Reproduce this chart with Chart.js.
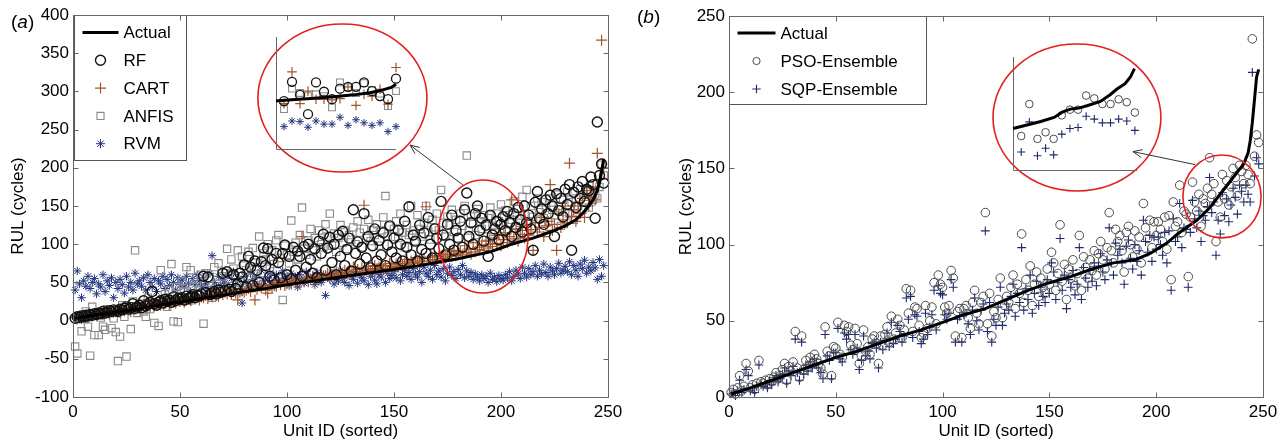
<!DOCTYPE html>
<html lang="en">
<head>
<meta charset="UTF-8">
<title>RUL prediction comparison</title>
<script src="https://cdn.jsdelivr.net/npm/chart.js@4"></script>
<style>
  body { margin: 0; background: #fff; font-family: 'Liberation Sans', Arial, sans-serif; }
  #wrap { position: relative; width: 1286px; height: 444px; overflow: hidden; }
  #wrap canvas { position: absolute; }
  .tag { position: absolute; font-size: 19px; line-height: 20px; color: #000; }
</style>
</head>
<body>
<div id="wrap">
  <canvas id="chartA" width="640" height="444" style="left:0;top:0"></canvas>
  <canvas id="chartB" width="646" height="444" style="left:640px;top:0"></canvas>
  <canvas id="insetA" width="132" height="125" style="left:270px;top:30px"></canvas>
  <canvas id="insetB" width="134" height="125" style="left:1008px;top:50px"></canvas>
  <div class="tag" style="left:11px;top:12px">(<i>a</i>)</div>
  <div class="tag" style="left:637px;top:7px">(<i>b</i>)</div>
</div>

<script>
// ---- panel (a): one value per unit, units sorted 1..248 ----
const actualUnitsA = [1,10,20,30,40,50,60,70,80,90,100,110,120,130,140,150,160,170,180,190,
  195,200,205,210,215,220,225,230,235,238,241,243,245,246,247,248];
const actualA = [3,7,11,15,20,24,29,33,38,42,47,51,55,59,63,67,71,76,81,87,
  90,95,100,104,108,113,118,124,132,140,150,158,170,180,195,212];

const rfA = [
  3,5,4,6,5,7,6,8,7,9, 8,10,9,12,10,11,13,12,14,13, 12,15,14,16,18,15,17,22,16,18,
  20,17,26,19,21,24,38,22,20,24, 26,23,28,25,27,24,31,26,29,28, 30,27,32,29,31,34,30,33,32,35,
  58,37,57,34,36,38,35,40,37,62, 39,64,41,38,60,42,48,62,57,73, 44,84,70,46,78,66,50,77,95,72,
  94,58,80,53,88,76,56,88,99,60, 84,54,96,66,91,84,58,97,70,100, 80,62,94,56,104,88,113,66,95,109,
  76,100,60,112,84,117,72,93,108,65, 145,88,103,74,96,140,82,110,69,98, 120,78,105,86,115,72,99,124,90,108,
  82,118,100,78,130,96,149,86,112,104, 78,125,93,115,88,135,100,82,120,108, 94,156,112,86,126,100,138,92,118,108,
  130,96,145,167,110,128,100,140,150,118, 134,104,125,84,138,112,120,130,106,126, 136,118,143,128,110,140,122,148,132,116,
  150,128,138,120,92,155,169,134,146,126, 158,140,164,150,110,166,144,160,136,172, 152,178,92,168,148,175,160,182,156,172,
  170,188,178,134,260,190,205,180];

const cartA = [
  4,2,6,3,7,5,4,8,6,9, 7,9,11,8,10,12,9,13,11,12, 14,11,15,13,16,14,12,17,15,19,
  16,18,21,17,20,18,22,19,23,21, 20,24,22,25,21,26,24,23,27,25, 28,24,27,29,26,30,28,32,27,31,
  30,33,29,34,31,35,33,32,36,34, 37,35,40,34,38,36,27,41,39,37, 40,42,38,44,27,41,45,43,47,40,
  36,46,44,48,45,50,47,52,46,49, 51,48,55,50,53,49,110,52,56,51, 54,58,53,57,55,60,56,59,62,57,
  58,61,64,59,63,60,66,62,65,61, 70,64,67,63,69,151,66,71,65,68, 72,67,70,74,68,72,66,75,71,69,
  74,70,77,72,75,80,73,78,76,82, 75,79,77,81,149,78,83,80,85,79, 84,81,87,82,86,90,84,92,85,88,
  91,86,98,89,94,87,102,90,96,93, 99,92,104,95,100,97,108,101,112,98, 106,115,102,110,158,107,120,104,113,118,
  108,125,112,119,92,128,116,122,135,110, 124,130,178,118,126,92,140,122,132,150, 128,206,136,145,130,150,140,160,135,170,
  150,162,175,158,219,185,367,200];

const anfisA = [
  -34,-43,5,-14,2,12,-8,-46,18,-19, 8,-19,4,-8,-12,15,10,-10,3,-15, -53,-21,20,5,-47,14,-11,25,92,10,
  18,22,12,5,30,15,24,-3,20,-7, 66,28,35,18,40,74,-1,44,-2,32, 52,38,70,26,66,45,30,50,35,60,
  -4,62,40,55,30,70,48,75,38,58, 62,94,45,80,68,56,92,50,84,72, 66,90,58,95,76,70,110,62,88,80,
  100,68,92,74,105,112,82,27,98,86, 75,131,90,102,80,112,148,94,86,105, 120,92,108,84,118,100,96,126,110,140,
  98,114,90,108,125,102,118,94,112,106, 122,100,130,115,96,120,108,132,104,118, 112,126,98,118,135,163,110,124,100,120,
  130,108,140,115,96,125,112,150,118,104, 138,120,110,128,150,116,106,132,122,140, 118,171,128,110,136,125,145,116,132,108,
  140,124,150,216,118,136,128,112,146,130, 120,138,110,134,148,124,116,140,130,152, 126,144,118,138,132,156,124,146,128,162,
  140,171,130,150,136,124,160,142,155,134, 148,130,160,145,138,165,150,124,158,142, 168,140,155,132,160,150,172,145,162,155,
  148,170,158,165,160,175,204,190];

const rvmA = [
  40,65,48,30,52,45,58,42,50,55, 35,48,44,60,38,52,46,56,30,50, 42,54,47,36,58,44,50,40,62,48,
  52,45,56,40,60,50,44,55,38,52, 48,58,42,54,46,60,50,40,56,47, 53,44,58,49,38,55,47,60,52,45,
  56,48,42,62,85,50,44,58,46,54, 49,60,43,55,64,47,52,36,23,58, 50,44,62,54,48,58,45,66,52,47,
  56,62,50,44,60,53,48,65,55,58, 46,62,52,57,44,60,54,49,64,56, 52,58,47,63,55,50,60,33,57,54,
  62,48,58,52,66,55,50,61,46,58, 54,63,49,60,56,52,65,47,58,62, 53,48,60,57,66,50,62,55,59,64,
  56,70,52,60,66,58,63,54,68,61, 57,64,50,70,62,58,66,54,72,60, 65,57,68,52,62,70,59,64,55,67,
  60,72,56,65,58,63,54,61,57,52, 60,55,58,50,62,54,57,51,59,55, 53,60,56,64,52,58,66,61,55,70,
  62,57,68,60,64,72,58,66,61,74, 63,58,70,65,60,68,75,62,66,71, 64,77,60,72,66,58,74,68,79,62,
  70,65,76,69,54,80,58,72];

// ---- panel (b) ----
const actualUnitsB = [1,10,20,30,40,50,60,70,80,90,100,110,120,130,140,150,160,170,180,190,
  197,205,210,215,219,225,231,236,241,243,244,245,246,247,248];
const actualB = [2,6,11,16,21,26,30,35,40,44,49,54,58,64,70,75,79,84,88,90,
  94,101,107,112,116,124,135,144,153,160,168,180,195,210,215];

const psoB = [
  3,5,2,6,14,4,7,22,17,6, 8,5,9,24,10,9,11,8,12,10, 13,16,12,14,18,22,11,20,17,23,
  43,19,13,40,18,24,20,26,22,28, 25,22,19,15,46,30,27,14,33,32, 49,28,26,47,43,46,34,31,45,35,
  22,27,44,30,33,28,38,40,35,22, 40,34,41,46,36,53,38,42,51,47, 39,44,71,55,70,43,59,58,47,39,
  42,60,45,50,59,75,48,80,74,72, 59,55,60,83,78,40,56,58,39,58, 60,52,45,62,70,55,48,62,66,121,
  48,68,40,56,52,64,78,52,60,66, 62,72,80,58,74,68,107,62,77,70, 86,60,74,82,66,78,72,68,84,74,
  95,88,70,81,113,76,87,64,84,78, 90,73,81,106,70,92,85,78,90,83, 96,80,94,102,90,84,98,121,96,88,
  110,102,106,96,82,108,112,100,92,109, 97,105,88,127,111,104,116,98,115,106, 115,110,102,118,97,119,77,128,112,115,
  139,108,122,120,79,118,141,128,122,133, 112,130,127,137,157,133,140,102,128,118, 146,130,142,126,138,150,144,132,152,148,
  140,152,146,140,235,158,172,167];

const sqpB = [
  2,3,1,4,11,3,5,18,14,4, 6,3,7,21,8,7,9,6,10,8, 11,14,10,12,15,19,9,17,14,20,
  38,16,11,36,15,21,17,23,19,25, 22,19,16,12,41,27,24,12,29,29, 45,25,23,42,38,41,31,28,41,32,
  18,24,40,27,30,25,35,36,32,19, 36,31,37,42,33,49,35,38,47,43, 36,40,65,51,66,39,54,53,43,35,
  38,55,41,46,54,70,44,73,68,67, 54,51,55,77,72,36,51,53,36,54, 55,48,41,57,65,50,44,57,61,109,
  43,62,36,51,47,59,72,47,55,61, 57,66,74,53,68,62,98,57,71,64, 80,55,68,76,60,72,66,62,77,68,
  88,82,64,75,104,70,80,58,77,72, 83,67,74,98,64,85,78,72,83,76, 88,73,86,94,82,77,90,111,88,80,
  101,93,97,88,74,99,103,91,84,100, 89,96,80,116,102,95,106,89,105,97, 105,100,93,108,88,109,70,117,102,105,
  127,98,111,110,72,108,129,117,111,122, 102,119,116,125,144,121,128,93,116,107, 134,119,130,115,126,137,131,120,139,135,
  128,139,133,128,213,145,157,153];

// ---- zoomed insets (points shown inside the big red ellipses) ----
const insetUnitsA = [181,183,185,187,189,191,193,195,197,199,201,203,205,207,209];
const insetActualUnitsA = [179,182.8,187.7,193.5,198.4,202.5,205.7,207.8,209];
const insetActualA = [97,99,101,104,107,110.5,115,119,124];
const insetRF = [97,128,107,76,127,112,100,117,120,120,127,113,105,100,133];
const insetCART = [93,144,93,113,100,100,99,101,120,90,108,105,116,92,151];
const insetANFIS = [84,117,110,105,108,105,87,127,119,110,126,115,109,89,113];
const insetRVM = [56,65,64,55,65,60,60,71,58,67,62,58,62,48,56];

const insetUnitsB = [220,222,224,226,228,230,232,234,236,238,240,242,244,246,248];
const insetActualUnitsB = [218,220.7,224.8,228.1,230.1,232.1,234.2,236.2,239.5,241.9,243.6,245.6,246.9,247.9];
const insetActualB = [124,127,131.5,135.7,141.4,144.6,145.7,148.2,152.8,159.9,165.9,171.6,178.7,187.6];
const insetPSO = [116,150,113,120,113,138,144,144,159,156,150,150,155,152,141];
const insetSQP = [99,131,95,103,96,118,124,125,137,134,130,130,134,132,122];

// ---- tick labels ----
const xTicks = [0, 50, 100, 150, 200, 250];
const yTicksA = [-100, -50, 0, 50, 100, 150, 200, 250, 300, 350, 400];
const yTicksB = [0, 50, 100, 150, 200, 250];

// ---- red ellipses and arrows, in data units ----
const ellipsesA = [{x: 125.9, y: 291.4, rx: 39.5, ry: 96.9}, {x: 191.6, y: 110.1, rx: 21, ry: 74}];
const arrowA = {x1: 182.2, y1: 177.5, x2: 157.5, y2: 229.8};
const ellipsesB = [{x: 162.9, y: 183.4, rx: 39.3, ry: 48.2}, {x: 230.8, y: 131.6, rx: 18.3, ry: 27.2}];
const arrowB = {x1: 218.2, y1: 152.5, x2: 189.1, y2: 161};

Chart.defaults.font.family = "'Liberation Sans', Arial, sans-serif";
Chart.defaults.font.size = 17;
Chart.defaults.color = '#000';

const pts = (vals, units) => vals.map((v, i) => ({x: units ? units[i] : i + 1, y: v}));

function drawMarker(ctx, style, x, y, r, color, lw) {
  ctx.save();
  ctx.strokeStyle = color;
  ctx.lineWidth = lw;
  ctx.beginPath();
  if (style === 'circle') {
    ctx.arc(x, y, r, 0, Math.PI * 2);
  } else if (style === 'rect') {
    const s = r * Math.SQRT1_2;
    ctx.rect(x - s, y - s, 2 * s, 2 * s);
  } else {
    ctx.moveTo(x - r, y); ctx.lineTo(x + r, y);
    ctx.moveTo(x, y - r); ctx.lineTo(x, y + r);
    if (style === 'star') {
      const d = r * Math.SQRT1_2;
      ctx.moveTo(x - d, y - d); ctx.lineTo(x + d, y + d);
      ctx.moveTo(x - d, y + d); ctx.lineTo(x + d, y - d);
    }
  }
  ctx.stroke();
  ctx.restore();
}

// legend box in the top-left corner of the plot
const boxLegend = {
  id: 'boxLegend',
  afterDraw(chart, args, o) {
    const {ctx, chartArea: a} = chart;
    const x = Math.round(a.left + o.dx) + 0.5, y = Math.round(a.top) + 0.5;
    ctx.save();
    ctx.fillStyle = '#fff';
    ctx.fillRect(x, y, o.w, o.h);
    ctx.strokeStyle = '#555';
    ctx.lineWidth = 1;
    ctx.strokeRect(x, y, o.w, o.h);
    ctx.font = "17px 'Liberation Sans', Arial, sans-serif";
    ctx.textBaseline = 'middle';
    chart.data.datasets.forEach((ds, i) => {
      const yy = y + o.first + i * o.row;
      if (ds.showLine) {
        ctx.strokeStyle = ds.borderColor;
        ctx.lineWidth = ds.borderWidth;
        ctx.beginPath();
        ctx.moveTo(x + o.line[0], yy);
        ctx.lineTo(x + o.line[1], yy);
        ctx.stroke();
      } else {
        drawMarker(ctx, ds.pointStyle, x + o.mark, yy, ds.legendRadius, ds.borderColor, ds.pointBorderWidth);
      }
      ctx.fillStyle = '#000';
      ctx.fillText(ds.label, x + o.text, yy + 1);
    });
    ctx.restore();
  }
};

// box around the axes with inward ticks, MATLAB style
const frame = {
  id: 'frame',
  afterDraw(chart) {
    const {ctx, chartArea: a, scales} = chart;
    const L = Math.round(a.left) + 0.5, R = Math.round(a.right) + 0.5;
    const T = Math.round(a.top) + 0.5, B = Math.round(a.bottom) + 0.5;
    ctx.save();
    ctx.strokeStyle = '#666';
    ctx.lineWidth = 1;
    ctx.strokeRect(L, T, R - L, B - T);
    ctx.beginPath();
    scales.x.ticks.forEach(t => {
      const px = Math.round(scales.x.getPixelForValue(t.value)) + 0.5;
      ctx.moveTo(px, B); ctx.lineTo(px, B - 5);
      ctx.moveTo(px, T); ctx.lineTo(px, T + 5);
    });
    scales.y.ticks.forEach(t => {
      const py = Math.round(scales.y.getPixelForValue(t.value)) + 0.5;
      ctx.moveTo(L, py); ctx.lineTo(L + 5, py);
      ctx.moveTo(R, py); ctx.lineTo(R - 5, py);
    });
    ctx.stroke();
    ctx.restore();
  }
};

// red ellipses and the arrow pointing to the inset
const marks = {
  id: 'marks',
  afterDatasetsDraw(chart, args, o) {
    const {ctx, scales: {x, y}} = chart;
    ctx.save();
    ctx.strokeStyle = '#e41f1f';
    ctx.lineWidth = 1.6;
    o.ellipses.forEach(e => {
      const cx = x.getPixelForValue(e.x), cy = y.getPixelForValue(e.y);
      const rx = Math.abs(x.getPixelForValue(e.x + e.rx) - cx);
      const ry = Math.abs(y.getPixelForValue(e.y + e.ry) - cy);
      ctx.beginPath();
      ctx.ellipse(cx, cy, rx, ry, 0, 0, Math.PI * 2);
      ctx.stroke();
    });
    const ar = o.arrow;
    const x1 = x.getPixelForValue(ar.x1), y1 = y.getPixelForValue(ar.y1);
    const x2 = x.getPixelForValue(ar.x2), y2 = y.getPixelForValue(ar.y2);
    const ang = Math.atan2(y2 - y1, x2 - x1);
    ctx.strokeStyle = '#333';
    ctx.lineWidth = 1;
    ctx.beginPath();
    ctx.moveTo(x1, y1); ctx.lineTo(x2, y2);
    ctx.moveTo(x2 - 10 * Math.cos(ang - 0.4), y2 - 10 * Math.sin(ang - 0.4));
    ctx.lineTo(x2, y2);
    ctx.lineTo(x2 - 10 * Math.cos(ang + 0.4), y2 - 10 * Math.sin(ang + 0.4));
    ctx.stroke();
    ctx.restore();
  }
};

// inset axes: left and bottom lines only
const insetAxes = {
  id: 'insetAxes',
  beforeDatasetsDraw(chart) {
    const {ctx, chartArea: a} = chart;
    const L = Math.round(a.left) + 0.5, B = Math.round(a.bottom) + 0.5;
    ctx.save();
    ctx.strokeStyle = '#666';
    ctx.lineWidth = 1;
    ctx.beginPath();
    ctx.moveTo(L, Math.round(a.top)); ctx.lineTo(L, B); ctx.lineTo(Math.round(a.right), B);
    ctx.stroke();
    ctx.restore();
  }
};

function axes(yTicks, yWidth) {
  return {
    x: {
      type: 'linear', min: 0, max: 250,
      afterBuildTicks: s => { s.ticks = xTicks.map(v => ({value: v})); },
      afterFit: s => { s.height = 47; },
      grid: {display: false, drawTicks: false}, border: {display: false},
      ticks: {padding: 5, maxRotation: 0, autoSkip: false},
      title: {display: true, text: 'Unit ID (sorted)', padding: {top: 0, bottom: 2}}
    },
    y: {
      type: 'linear', min: yTicks[0], max: yTicks[yTicks.length - 1],
      afterBuildTicks: s => { s.ticks = yTicks.map(v => ({value: v})); },
      afterFit: s => { s.width = yWidth; },
      grid: {display: false, drawTicks: false}, border: {display: false},
      ticks: {padding: 4, autoSkip: false},
      title: {display: true, text: 'RUL (cycles)', padding: {top: 4, bottom: 4}}
    }
  };
}

const base = {responsive: false, animation: false, devicePixelRatio: 1, events: []};

new Chart(document.getElementById('chartA'), {
  type: 'scatter',
  data: {datasets: [
    {label: 'Actual', data: pts(actualA, actualUnitsA), showLine: true, borderColor: '#000', borderWidth: 3, pointRadius: 0, clip: false},
    {label: 'RF', data: pts(rfA), pointStyle: 'circle', pointRadius: 5, borderColor: '#111', backgroundColor: 'rgba(0,0,0,0)', pointBorderWidth: 1.4, legendRadius: 5, clip: false},
    {label: 'CART', data: pts(cartA), pointStyle: 'cross', pointRadius: 5.5, borderColor: '#a5532b', backgroundColor: 'rgba(0,0,0,0)', pointBorderWidth: 1.2, legendRadius: 5.5, clip: false},
    {label: 'ANFIS', data: pts(anfisA), pointStyle: 'rect', pointRadius: 5.2, borderColor: '#8a8a8a', backgroundColor: 'rgba(0,0,0,0)', pointBorderWidth: 1.1, legendRadius: 5, clip: false},
    {label: 'RVM', data: pts(rvmA), pointStyle: 'star', pointRadius: 4.2, borderColor: '#22357f', backgroundColor: 'rgba(0,0,0,0)', pointBorderWidth: 1, legendRadius: 4.5, clip: false}
  ]},
  options: Object.assign({}, base, {
    layout: {padding: {left: 4, top: 15, right: 32, bottom: 0}},
    scales: axes(yTicksA, 69),
    plugins: {
      legend: {display: false}, tooltip: {enabled: false},
      boxLegend: {dx: 1, w: 112, h: 145, first: 17, row: 27.8, line: [8, 44], mark: 26, text: 49},
      marks: {ellipses: ellipsesA, arrow: arrowA}
    }
  }),
  plugins: [marks, boxLegend, frame]
});

new Chart(document.getElementById('chartB'), {
  type: 'scatter',
  data: {datasets: [
    {label: 'Actual', data: pts(actualB, actualUnitsB), showLine: true, borderColor: '#000', borderWidth: 3, pointRadius: 0, clip: false},
    {label: 'PSO-Ensemble', data: pts(psoB), pointStyle: 'circle', pointRadius: 4.3, borderColor: '#4a4a4a', backgroundColor: 'rgba(0,0,0,0)', pointBorderWidth: 1, legendRadius: 3.6, clip: false},
    {label: 'SQP-Ensemble', data: pts(sqpB), pointStyle: 'cross', pointRadius: 4.4, borderColor: '#1c2a6e', backgroundColor: 'rgba(0,0,0,0)', pointBorderWidth: 1.1, legendRadius: 4.2, clip: false}
  ]},
  options: Object.assign({}, base, {
    layout: {padding: {left: 32, top: 16, right: 23, bottom: 0}},
    scales: axes(yTicksB, 57),
    plugins: {
      legend: {display: false}, tooltip: {enabled: false},
      boxLegend: {dx: 0, w: 197, h: 88, first: 16.5, row: 28, line: [8, 46], mark: 27, text: 51},
      marks: {ellipses: ellipsesB, arrow: arrowB}
    }
  }),
  plugins: [marks, boxLegend, frame]
});

function insetScales(xMin, xMax, yMin, yMax) {
  return {
    x: {type: 'linear', min: xMin, max: xMax, display: false},
    y: {type: 'linear', min: yMin, max: yMax, display: false}
  };
}

new Chart(document.getElementById('insetA'), {
  type: 'scatter',
  data: {datasets: [
    {data: pts(insetActualA, insetActualUnitsA), showLine: true, borderColor: '#000', borderWidth: 3, pointRadius: 0, clip: false},
    {data: pts(insetRF, insetUnitsA), pointStyle: 'circle', pointRadius: 4.5, borderColor: '#111', backgroundColor: 'rgba(0,0,0,0)', pointBorderWidth: 1.3, clip: false},
    {data: pts(insetCART, insetUnitsA), pointStyle: 'cross', pointRadius: 4.8, borderColor: '#a5532b', backgroundColor: 'rgba(0,0,0,0)', pointBorderWidth: 1.2, clip: false},
    {data: pts(insetANFIS, insetUnitsA), pointStyle: 'rect', pointRadius: 4.8, borderColor: '#8a8a8a', backgroundColor: 'rgba(0,0,0,0)', pointBorderWidth: 1.1, clip: false},
    {data: pts(insetRVM, insetUnitsA), pointStyle: 'star', pointRadius: 3.8, borderColor: '#22357f', backgroundColor: 'rgba(0,0,0,0)', pointBorderWidth: 1, clip: false}
  ]},
  options: Object.assign({}, base, {
    layout: {padding: {left: 4, top: 7, right: 5, bottom: 5}},
    scales: insetScales(179, 209, 20, 200),
    plugins: {legend: {display: false}, tooltip: {enabled: false}}
  }),
  plugins: [insetAxes]
});

new Chart(document.getElementById('insetB'), {
  type: 'scatter',
  data: {datasets: [
    {data: pts(insetActualB, insetActualUnitsB), showLine: true, borderColor: '#000', borderWidth: 3, pointRadius: 0, clip: false},
    {data: pts(insetPSO, insetUnitsB), pointStyle: 'circle', pointRadius: 3.8, borderColor: '#4a4a4a', backgroundColor: 'rgba(0,0,0,0)', pointBorderWidth: 1, clip: false},
    {data: pts(insetSQP, insetUnitsB), pointStyle: 'cross', pointRadius: 4, borderColor: '#1c2a6e', backgroundColor: 'rgba(0,0,0,0)', pointBorderWidth: 1.1, clip: false}
  ]},
  options: Object.assign({}, base, {
    layout: {padding: {left: 4, top: 7, right: 5, bottom: 5}},
    scales: insetScales(218, 248.5, 80, 200),
    plugins: {legend: {display: false}, tooltip: {enabled: false}}
  }),
  plugins: [insetAxes]
});
</script>
</body>
</html>
